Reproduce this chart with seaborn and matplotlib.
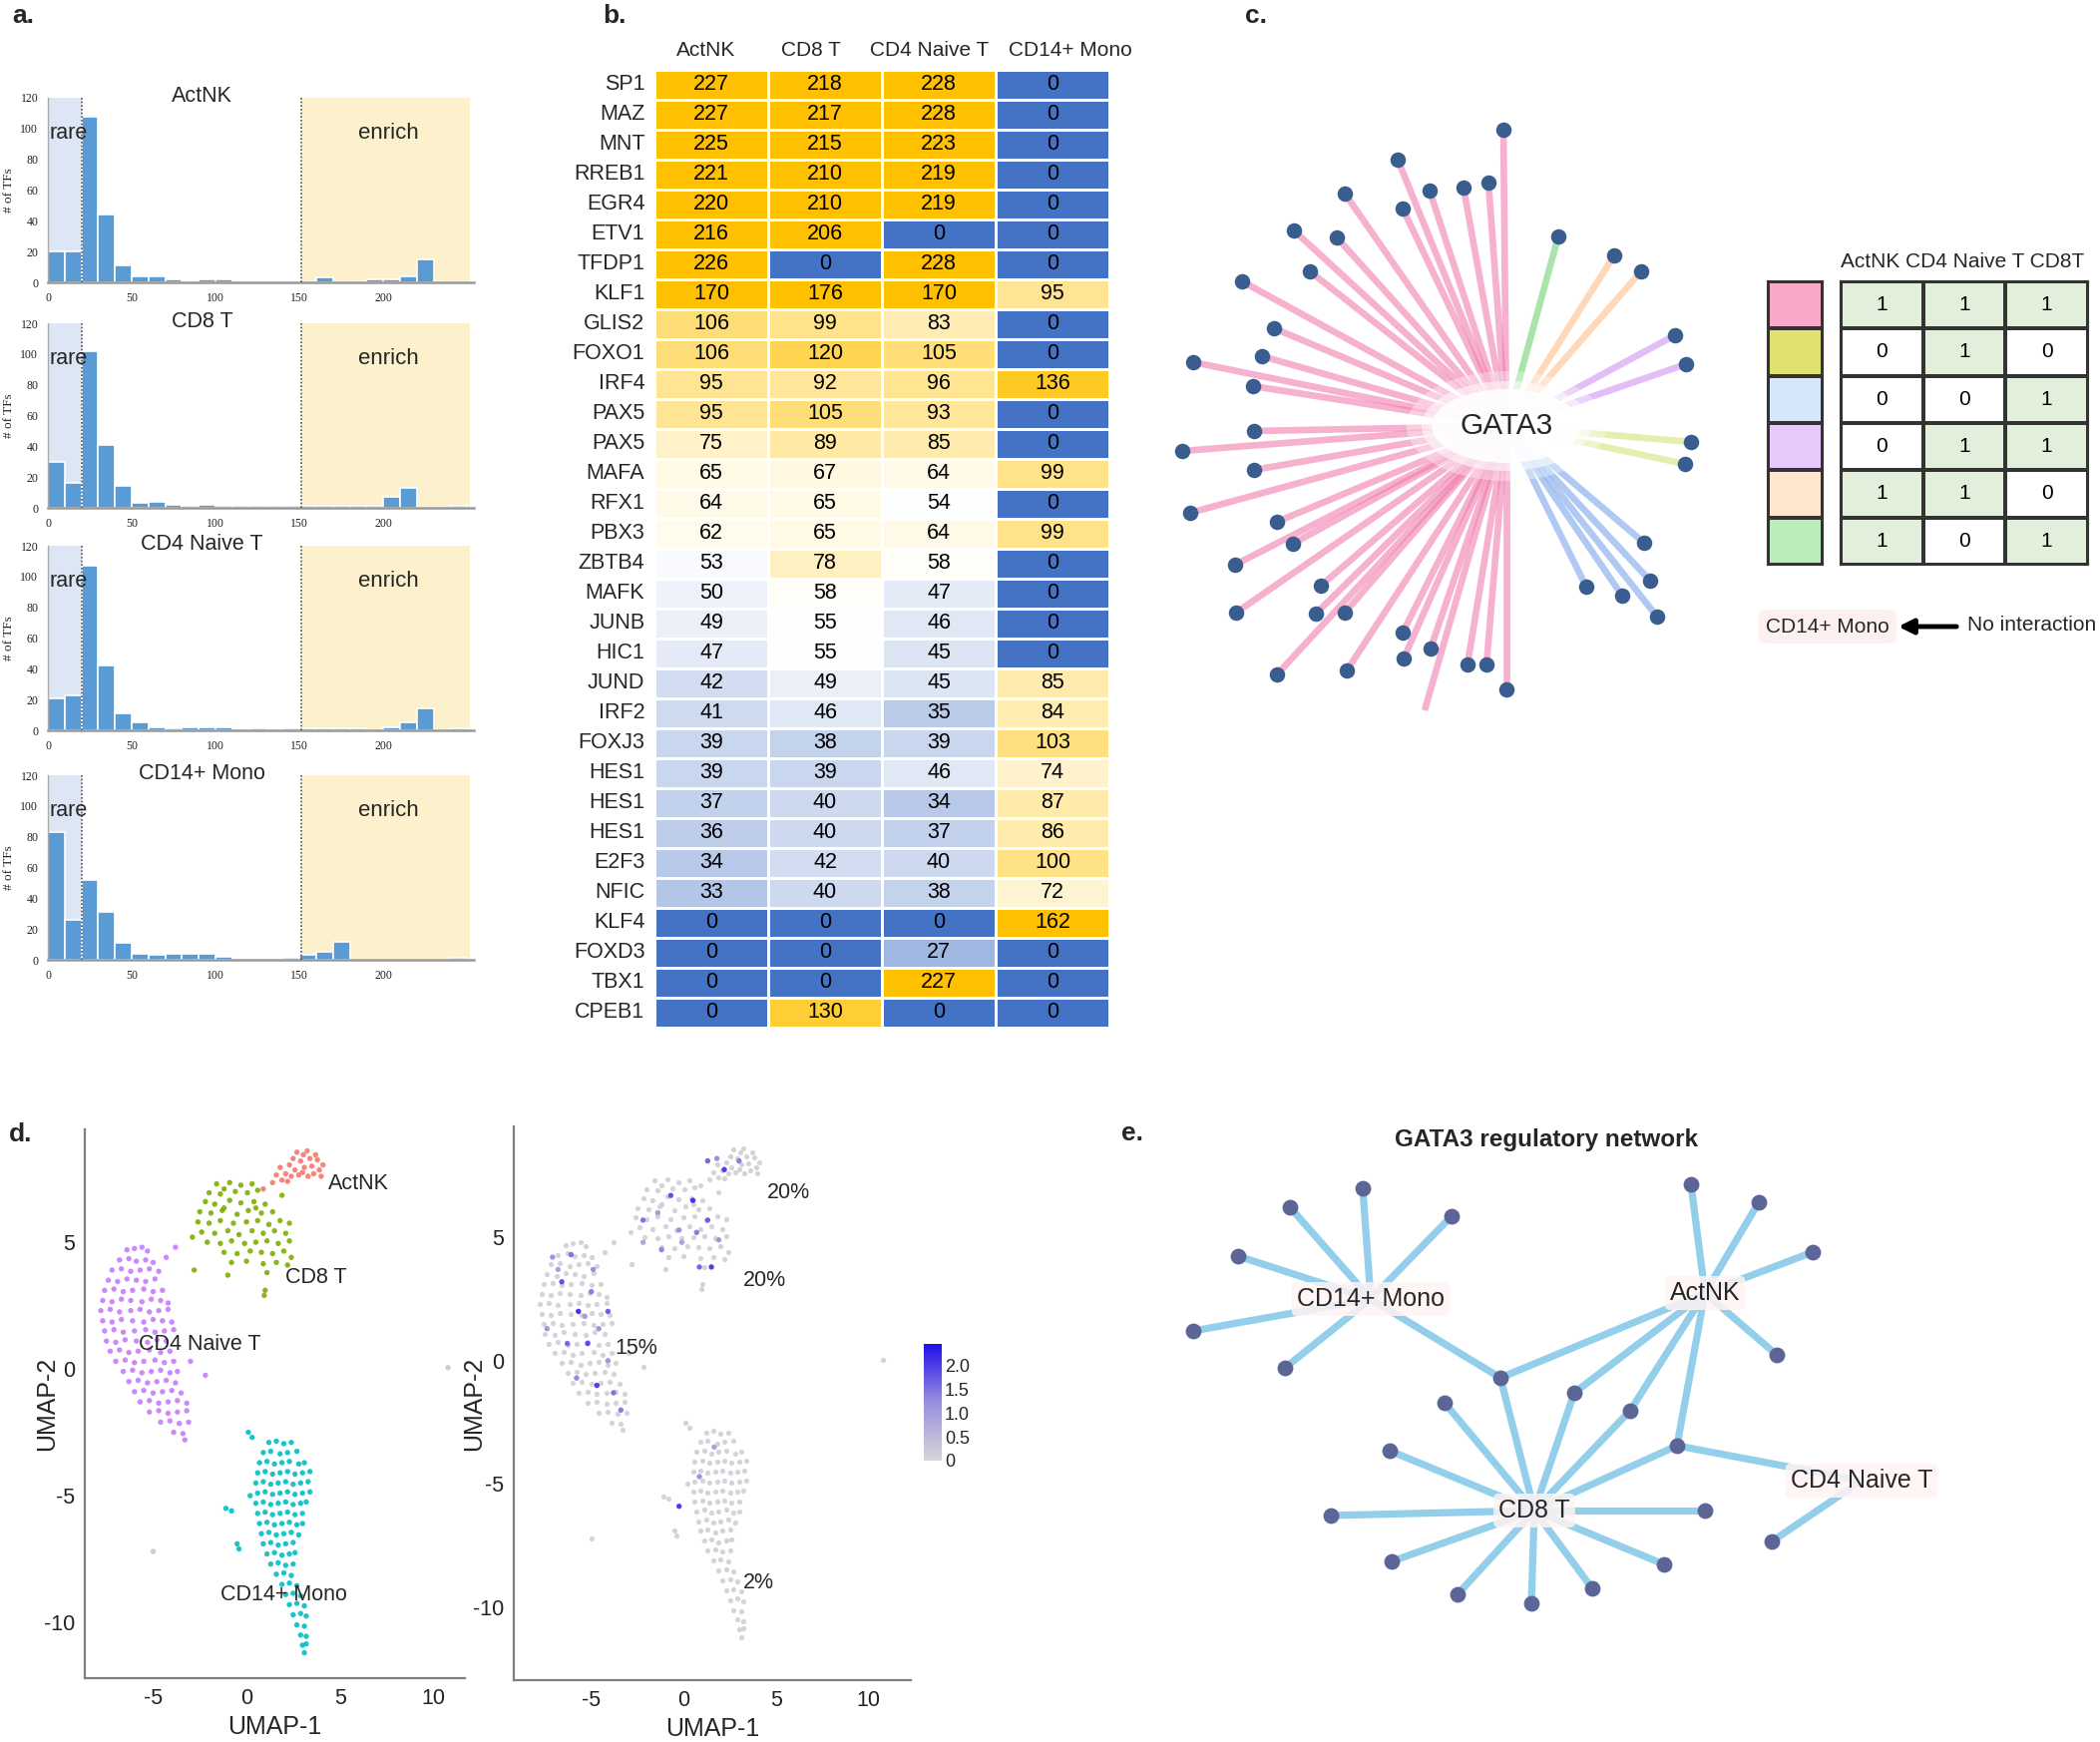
import numpy as np
import pandas as pd
import matplotlib
matplotlib.use("Agg")
import matplotlib.pyplot as plt
import seaborn as sns
from matplotlib.colors import LinearSegmentedColormap, ListedColormap, Normalize
from matplotlib.cm import ScalarMappable
from matplotlib.patches import Ellipse

sns.set_theme(style="white")
plt.rcParams["font.family"] = ["Liberation Sans", "DejaVu Sans"]
plt.rcParams["axes.unicode_minus"] = False
SERIF = ["Liberation Serif", "DejaVu Serif"]

# ---------------- panel a data ----------------
hist_titles = ["ActNK", "CD8 T", "CD4 Naive T", "CD14+ Mono"]
bin_edges = [0, 10, 20, 30, 40, 50, 60, 70, 80, 90, 100, 110, 120, 130, 140, 150,
             160, 170, 180, 190, 200, 210, 220, 230, 240, 250]
counts_actnk = [20, 20, 108, 44, 11, 4, 4, 2, 0, 2, 2, 0, 0, 0, 0, 0, 3, 0, 0, 2, 2, 4, 15, 0, 0]
counts_cd8 = [30, 16, 102, 41, 14, 3, 4, 2, 1, 2, 1, 1, 1, 1, 1, 1, 1, 1, 1, 1, 7, 13, 0, 0, 1]
counts_cd4 = [21, 23, 107, 42, 11, 5, 2, 1, 2, 2, 2, 0, 1, 0, 1, 1, 1, 1, 1, 0, 2, 5, 14, 0, 1]
counts_mono = [83, 26, 52, 31, 11, 4, 3, 4, 4, 4, 2, 0, 0, 0, 1, 3, 5, 12, 0, 0, 0, 0, 0, 0, 1]
rare_cut = 20
enrich_cut = 151

# ---------------- panel b data ----------------
tf_names = ["SP1", "MAZ", "MNT", "RREB1", "EGR4", "ETV1", "TFDP1", "KLF1", "GLIS2", "FOXO1",
            "IRF4", "PAX5", "PAX5", "MAFA", "RFX1", "PBX3", "ZBTB4", "MAFK", "JUNB", "HIC1",
            "JUND", "IRF2", "FOXJ3", "HES1", "HES1", "HES1", "E2F3", "NFIC", "KLF4", "FOXD3",
            "TBX1", "CPEB1"]
cell_cols = ["ActNK", "CD8 T", "CD4 Naive T", "CD14+ Mono"]
vals_actnk = [227, 227, 225, 221, 220, 216, 226, 170, 106, 106, 95, 95, 75, 65, 64, 62, 53, 50,
              49, 47, 42, 41, 39, 39, 37, 36, 34, 33, 0, 0, 0, 0]
vals_cd8 = [218, 217, 215, 210, 210, 206, 0, 176, 99, 120, 92, 105, 89, 67, 65, 65, 78, 58,
            55, 55, 49, 46, 38, 39, 40, 40, 42, 40, 0, 0, 0, 130]
vals_cd4 = [228, 228, 223, 219, 219, 0, 228, 170, 83, 105, 96, 93, 85, 64, 54, 64, 58, 47,
            46, 45, 45, 35, 39, 46, 34, 37, 40, 38, 0, 27, 227, 0]
vals_mono = [0, 0, 0, 0, 0, 0, 0, 95, 0, 0, 136, 0, 0, 99, 0, 99, 0, 0, 0, 0, 85, 84, 103,
             74, 87, 86, 100, 72, 162, 0, 0, 0]

# ---------------- panel c data (leaf offsets from GATA3, px, y down) ----------------
pink_dx = [-3, -109, -162, -77, -43, -18, -104, -213, -170, -197, -265, -233, -245, -314, -254,
           -253, -325, -253, -317, -230, -214, -272, -186, -271, -191, -162, -104, -76, -103,
           -39, -20, -230, -160, 0]
pink_dy = [-297, -267, -233, -236, -239, -244, -218, -196, -189, -155, -145, -98, -70, -64, -40,
           5, 25, 44, 87, 96, 118, 139, 160, 187, 188, 187, 207, 223, 233, 239, 239, 249, 245, 264]
cut_dx, cut_dy = [-82], [285]
green_dx, green_dy = [52], [-190]
peach_dx, peach_dy = [108, 135], [-171, -155]
purple_dx, purple_dy = [169, 180], [-91, -62]
yellow_dx, yellow_dy = [185, 179], [16, 38]
blue_dx, blue_dy = [138, 144, 80, 116, 151], [117, 155, 161, 170, 191]
legend_header = "ActNK CD4 Naive T CD8T"
interaction = [[1, 1, 1], [0, 1, 0], [0, 0, 1], [0, 1, 1], [1, 1, 0], [1, 0, 1]]

# ---------------- panel d data ----------------
actnk_pts = [(1.4, 7.35), (1.6, 7.65), (1.9, 7.45), (1.8, 7.95), (2.1, 7.7), (2.3, 8.05), (2.5, 8.3),
             (2.7, 8.55), (2.9, 8.2), (3.05, 8.45), (3.25, 8.6), (3.1, 7.95), (3.4, 8.3), (3.5, 8.0),
             (3.6, 7.7), (3.8, 8.25), (3.9, 7.85), (4.1, 8.05), (2.6, 7.85), (3.3, 7.6), (2.2, 7.4),
             (3.7, 8.45), (4.0, 7.6), (2.8, 7.65), (0.9, 7.1), (2.4, 7.6), (3.0, 7.75)]
cd8_pts = [(-1.6, 7.3), (-0.9, 7.35), (-0.3, 7.25), (0.3, 7.3), (-1.2, 7.1),
           (-2.0, 6.95), (-1.4, 6.9), (-0.6, 7.0), (0.05, 6.95), (0.6, 7.05), (1.9, 6.85),
           (-2.2, 6.6), (-1.7, 6.5), (-0.9, 6.65), (-0.3, 6.55), (0.4, 6.6), (1.0, 6.5), (-1.2, 6.35),
           (-2.5, 6.2), (-1.9, 6.15), (-1.3, 6.25), (-0.5, 6.1), (0.1, 6.25), (0.8, 6.15), (1.4, 6.2), (0.5, 6.35),
           (-2.6, 5.8), (-2.0, 5.75), (-1.4, 5.85), (-0.7, 5.75), (0.0, 5.8), (0.6, 5.85), (1.2, 5.7), (1.8, 5.85), (2.3, 5.75),
           (-2.4, 5.4), (-1.7, 5.35), (-1.0, 5.45), (-0.4, 5.3), (0.3, 5.45), (0.9, 5.35), (1.5, 5.45), (2.1, 5.35),
           (-2.1, 5.0), (-1.4, 4.95), (-0.8, 5.05), (-0.1, 4.95), (0.5, 5.0), (1.1, 5.05), (1.7, 4.95), (2.3, 5.05),
           (-1.2, 4.6), (-0.5, 4.55), (0.2, 4.65), (0.8, 4.6), (1.4, 4.55), (2.0, 4.65), (2.4, 4.4),
           (-0.8, 4.2), (0.0, 4.25), (0.9, 4.15), (1.6, 4.2), (2.2, 4.1),
           (1.1, 3.8), (0.95, 2.9), (-1.0, 3.7), (-2.8, 3.9), (-2.9, 5.2), (1.0, 3.1)]
cd4_pts = [(-6.4, 4.7), (-6.0, 4.75), (-5.6, 4.8), (-5.3, 4.65), (-3.8, 4.8), (-4.3, 4.4),
           (-6.8, 4.3), (-6.3, 4.35), (-5.9, 4.25), (-5.4, 4.3), (-5.0, 4.2),
           (-7.2, 3.9), (-6.7, 3.95), (-6.2, 3.85), (-5.7, 3.9), (-5.2, 3.95), (-4.7, 3.85),
           (-7.4, 3.5), (-6.9, 3.45), (-6.4, 3.55), (-5.9, 3.5), (-5.4, 3.45), (-4.9, 3.55),
           (-7.6, 3.1), (-7.1, 3.15), (-6.6, 3.05), (-6.1, 3.1), (-5.5, 3.15), (-5.0, 3.05), (-4.5, 3.1),
           (-7.7, 2.7), (-7.2, 2.65), (-6.7, 2.75), (-6.2, 2.7), (-5.6, 2.65), (-5.1, 2.75), (-4.6, 2.7), (-4.2, 2.6),
           (-7.8, 2.3), (-7.3, 2.35), (-6.8, 2.25), (-6.2, 2.3), (-5.7, 2.35), (-5.2, 2.25), (-4.7, 2.3), (-4.2, 2.35),
           (-7.7, 1.9), (-7.2, 1.85), (-6.7, 1.95), (-6.1, 1.9), (-5.5, 1.85), (-5.0, 1.95), (-4.5, 1.9), (-4.0, 1.85),
           (-7.6, 1.5), (-7.1, 1.55), (-6.6, 1.45), (-6.0, 1.5), (-5.4, 1.55), (-4.9, 1.45), (-4.4, 1.5), (-3.9, 1.55),
           (-7.5, 1.1), (-7.0, 1.05), (-6.5, 1.15), (-5.9, 1.1), (-5.3, 1.05), (-4.8, 1.15), (-4.3, 1.1),
           (-7.3, 0.7), (-6.8, 0.75), (-6.3, 0.65), (-5.8, 0.7), (-5.2, 0.75), (-4.6, 0.65), (-4.1, 0.7),
           (-7.0, 0.3), (-6.5, 0.35), (-6.0, 0.25), (-5.5, 0.3), (-4.9, 0.35), (-4.4, 0.25), (-3.9, 0.3),
           (-6.6, -0.1), (-6.1, -0.05), (-5.6, -0.15), (-5.1, -0.1), (-4.6, -0.05), (-4.1, -0.15), (-3.7, -0.1),
           (-6.3, -0.5), (-5.8, -0.45), (-5.3, -0.55), (-4.8, -0.5), (-4.3, -0.45), (-3.8, -0.55),
           (-6.0, -0.9), (-5.5, -0.85), (-5.0, -0.95), (-4.5, -0.9), (-4.0, -0.85), (-3.5, -0.95),
           (-5.7, -1.3), (-5.2, -1.25), (-4.7, -1.35), (-4.2, -1.3), (-3.7, -1.25), (-3.2, -1.35),
           (-5.2, -1.7), (-4.7, -1.65), (-4.2, -1.75), (-3.7, -1.7), (-3.2, -1.65),
           (-4.6, -2.1), (-4.1, -2.05), (-3.6, -2.15), (-3.1, -2.1),
           (-3.9, -2.5), (-3.4, -2.55), (-3.3, -2.8), (-2.2, -0.25), (-3.0, 0.3)]
mono_pts = [(1.2, -2.9), (1.6, -2.85), (2.0, -2.95), (2.4, -2.9),
            (0.9, -3.3), (1.3, -3.25), (1.8, -3.35), (2.2, -3.3), (2.7, -3.25),
            (0.7, -3.7), (1.1, -3.65), (1.5, -3.75), (1.9, -3.7), (2.3, -3.65), (2.8, -3.75), (3.1, -3.7),
            (0.6, -4.1), (1.0, -4.05), (1.4, -4.15), (1.8, -4.1), (2.2, -4.05), (2.6, -4.15), (3.0, -4.1), (3.4, -4.05),
            (0.5, -4.5), (0.9, -4.45), (1.3, -4.55), (1.7, -4.5), (2.1, -4.45), (2.5, -4.55), (2.9, -4.5), (3.3, -4.45),
            (0.6, -4.9), (1.0, -4.85), (1.4, -4.95), (1.8, -4.9), (2.2, -4.85), (2.6, -4.95), (3.0, -4.9), (3.4, -4.85),
            (0.5, -5.3), (0.9, -5.25), (1.3, -5.35), (1.7, -5.3), (2.1, -5.25), (2.5, -5.35), (2.9, -5.3), (3.2, -5.25),
            (0.6, -5.7), (1.0, -5.65), (1.4, -5.75), (1.8, -5.7), (2.2, -5.65), (2.6, -5.75), (3.0, -5.7),
            (0.7, -6.1), (1.1, -6.05), (1.5, -6.15), (1.9, -6.1), (2.3, -6.05), (2.7, -6.15), (3.0, -6.1),
            (0.8, -6.5), (1.2, -6.45), (1.6, -6.55), (2.0, -6.5), (2.4, -6.45), (2.8, -6.55),
            (0.9, -6.9), (1.3, -6.85), (1.7, -6.95), (2.1, -6.9), (2.5, -6.85),
            (1.1, -7.3), (1.5, -7.25), (1.9, -7.35), (2.3, -7.3), (2.6, -7.25),
            (1.3, -7.7), (1.7, -7.65), (2.1, -7.75), (2.5, -7.7),
            (1.6, -8.1), (2.0, -8.05), (2.4, -8.15), (1.9, -8.5), (2.3, -8.45), (2.7, -8.55),
            (2.1, -8.9), (2.5, -8.85), (2.9, -8.95), (2.3, -9.3), (2.7, -9.25), (3.1, -9.35),
            (2.5, -9.7), (2.9, -9.65), (3.2, -9.75), (2.7, -10.1), (3.1, -10.15),
            (2.9, -10.5), (3.2, -10.55), (3.0, -10.9), (3.2, -10.85), (3.1, -11.2),
            (0.1, -2.5), (0.3, -2.7), (-1.1, -5.5), (-0.8, -5.6), (-0.5, -6.9), (-0.4, -7.1), (0.2, -5.0)]
other_pts = [(-5.0, -7.2), (10.8, 0.05)]
expr_pts = [(1.3, 8.1, 1.6), (1.8, 8.2, 1.2), (2.2, 7.75, 2.0), (3.0, 8.1, 1.4),
            (-2.2, 5.7, 1.5), (-1.4, 6.0, 1.0), (-0.7, 6.7, 1.8), (-0.25, 5.3, 1.2), (0.5, 6.5, 2.1),
            (0.7, 5.2, 1.4), (-0.1, 4.8, 0.9), (1.3, 5.7, 1.7), (1.5, 3.8, 2.0), (1.9, 4.9, 1.1),
            (-1.2, 4.5, 1.3), (-2.2, 4.8, 0.8), (0.85, 3.8, 1.6),
            (-7.1, 4.2, 1.2), (-6.6, 3.2, 1.8), (-5.7, 2.0, 2.1), (-5.35, 1.8, 1.0), (-5.0, 2.8, 1.4),
            (-7.4, 1.3, 1.1), (-6.3, 0.7, 1.6), (-5.2, 0.7, 1.9), (-4.6, 1.3, 1.2), (-4.1, 2.0, 1.7),
            (-5.8, -0.7, 1.3), (-4.7, -1.0, 2.0), (-3.8, -1.3, 1.5), (-4.1, 0.0, 1.1), (-3.4, -2.0, 1.4),
            (-6.8, 3.7, 0.9), (-6.1, 4.3, 1.5), (-4.9, 3.7, 1.2),
            (-0.25, -5.9, 2.0), (0.85, -4.7, 1.2), (1.65, -3.5, 0.9)]
cluster_labels = [("ActNK", 4.4, 7.3), ("CD8 T", 2.1, 3.6), ("CD4 Naive T", -5.8, 0.95), ("CD14+ Mono", -1.4, -8.9)]
pct_labels = [("20%", 4.5, 6.8), ("20%", 3.2, 3.25), ("15%", -3.75, 0.5), ("2%", 3.2, -9.0)]
cbar_ticks = [0, 0.5, 1.0, 1.5, 2.0]
cbar_ticklabels = ["0", "0.5", "1.0", "1.5", "2.0"]

# ---------------- panel e data ----------------
hub_names = ["CD14+ Mono", "ActNK", "CD8 T", "CD4 Naive T"]
hub_x = [1374, 1709, 1538, 1866]
hub_y = [1302, 1296, 1514, 1484]
tfnode_x = [1366, 1293, 1455, 1241, 1196, 1288, 1504, 1695, 1763, 1817, 1781, 1578, 1634, 1681,
            1448, 1393, 1334, 1709, 1395, 1461, 1535, 1596, 1668, 1776]
tfnode_y = [1191, 1210, 1219, 1259, 1334, 1371, 1381, 1187, 1205, 1255, 1358, 1396, 1414, 1449,
            1406, 1454, 1519, 1514, 1565, 1598, 1607, 1592, 1568, 1545]
tfnode_links = [[0], [0], [0], [0], [0], [0], [0, 1, 2], [1], [1], [1], [1], [1, 2], [1, 2], [1, 2, 3],
                [2], [2], [2], [2], [2], [2], [2], [2], [2], [3]]

# ======================================================================
W, H = 2105, 1746
fig = plt.figure(figsize=(W / 100, H / 100), dpi=100)


def px_ax(x0, y0, x1, y1):
    return fig.add_axes([x0 / W, 1 - y1 / H, (x1 - x0) / W, (y1 - y0) / H])


def ftext(x, y, s, **kw):
    return fig.text(x / W, 1 - y / H, s, **kw)


# ---------------- panel a ----------------
hist_counts = [counts_actnk, counts_cd8, counts_cd4, counts_mono]
hist_boxes = [(48, 98, 475, 283), (48, 324, 475, 509), (48, 547, 475, 732), (48, 777, 475, 962)]
centers = [(a + b) / 2 for a, b in zip(bin_edges[:-1], bin_edges[1:])]
for title, counts, box in zip(hist_titles, hist_counts, hist_boxes):
    ax = px_ax(*box)
    ax.axvspan(0, rare_cut, color="#DCE6F4", zorder=0, lw=0)
    ax.axvspan(enrich_cut, 251.5, color="#FDF0CD", zorder=0, lw=0)
    sns.histplot(x=centers, weights=counts, bins=bin_edges, color="#5B9BD5", alpha=1,
                 edgecolor="white", linewidth=1.2, ax=ax)
    for xc in (rare_cut, enrich_cut):
        ax.axvline(xc, color="#555555", ls=(0, (1, 1.2)), lw=1.2, zorder=3)
    ax.set_xlim(0, 254)
    ax.set_ylim(0, 120)
    ax.set_xticks([0, 50, 100, 150, 200])
    ax.set_yticks([0, 20, 40, 60, 80, 100, 120])
    ax.tick_params(length=0, labelsize=8.5, pad=7, colors="#222222")
    for lbl in ax.get_xticklabels() + ax.get_yticklabels():
        lbl.set_fontfamily(SERIF)
    ax.set_xlabel("")
    ax.set_ylabel("# of TFs", fontsize=9.5, fontfamily=SERIF, labelpad=4)
    for s in ("top", "right"):
        ax.spines[s].set_visible(False)
    ax.spines["left"].set_color("#AAAAAA")
    ax.spines["left"].set_linewidth(1)
    ax.spines["bottom"].set_color("#999999")
    ax.spines["bottom"].set_linewidth(1.8)
    ax.text(92, 121, title, ha="center", va="center", fontsize=15.5, zorder=6)
    ax.text(1, 97, "rare", ha="left", va="center", fontsize=15.5, zorder=6)
    ax.text(203, 97, "enrich", ha="center", va="center", fontsize=16, zorder=6)

# ---------------- panel b ----------------
hm_df = pd.DataFrame({"ActNK": vals_actnk, "CD8 T": vals_cd8, "CD4 Naive T": vals_cd4,
                      "CD14+ Mono": vals_mono})
axb = px_ax(656, 70, 1112, 1030)
cmap_b = LinearSegmentedColormap.from_list(
    "b", [(0, "#4472C4"), (55 / 150, "#FFFFFF"), (1, "#FFC000")])
sns.heatmap(hm_df, cmap=cmap_b, vmin=0, vmax=150, annot=True, fmt="d",
            annot_kws={"fontsize": 15.5, "color": "black"}, linewidths=2, linecolor="white",
            cbar=False, ax=axb, xticklabels=False, yticklabels=tf_names)
axb.set_yticklabels(tf_names, rotation=0, fontsize=15.5)
axb.tick_params(axis="y", length=0, pad=7)
axb.set_xlabel("")
axb.set_ylabel("")
for name, cx in zip(cell_cols, [708, 813, 932, 1073]):
    ftext(cx, 51, name, ha="center", va="center", fontsize=15)

# ---------------- panel c ----------------
axc = px_ax(1160, 100, 1720, 740)
star_groups = [
    (pink_dx + cut_dx, pink_dy + cut_dy, "#F07DAE", 0.6),
    (green_dx, green_dy, "#8EDC8E", 0.75),
    (peach_dx, peach_dy, "#FFC89C", 0.7),
    (purple_dx, purple_dy, "#D7A8F5", 0.75),
    (yellow_dx, yellow_dy, "#DDE88A", 0.7),
    (blue_dx, blue_dy, "#94B8EE", 0.75),
]
for dxs, dys, col, al in star_groups:
    for dx, dy in zip(dxs, dys):
        axc.plot([0, dx], [0, dy], color=col, lw=4.8, alpha=al, solid_capstyle="butt", zorder=1)
node_dx = pink_dx + green_dx + peach_dx + purple_dx + yellow_dx + blue_dx
node_dy = pink_dy + green_dy + peach_dy + purple_dy + yellow_dy + blue_dy
sns.scatterplot(x=node_dx, y=node_dy, color="#3A5D8F", s=125, linewidth=0, ax=axc, zorder=3)
for w, h, a in ((200, 110, 0.35), (170, 90, 0.55), (150, 74, 0.9)):
    axc.add_patch(Ellipse((0, 0), w, h, fc="white", ec="none", alpha=a, zorder=4))
axc.text(0, 0, "GATA3", ha="center", va="center", fontsize=21.5, zorder=5)
axc.set_xlim(-350, 210)
axc.set_ylim(313, -327)
axc.axis("off")

legend_colors = ["#F9A8C9", "#E0E06E", "#D6E6FB", "#E6C8FA", "#FFE6CC", "#B9EEB9"]
axs = px_ax(1772, 282, 1827, 566)
sns.heatmap(np.array([[0], [1], [2], [3], [4], [5]]), cmap=ListedColormap(legend_colors),
            vmin=-0.5, vmax=5.5, cbar=False, linewidths=1.5, linecolor="#333333",
            xticklabels=False, yticklabels=False, ax=axs)
axt = px_ax(1845, 282, 2093, 566)
sns.heatmap(np.array(interaction), cmap=ListedColormap(["#FFFFFF", "#E2EFDA"]), vmin=0, vmax=1,
            annot=True, fmt="d", annot_kws={"fontsize": 15, "color": "black"},
            cbar=False, linewidths=1.5, linecolor="#333333",
            xticklabels=False, yticklabels=False, ax=axt)
for a in (axs, axt):
    for sp in a.spines.values():
        sp.set_visible(True)
        sp.set_color("#333333")
        sp.set_linewidth(1.5)
ftext(1845, 262, legend_header, ha="left", va="center", fontsize=15)
ftext(1770, 628, "CD14+ Mono", ha="left", va="center", fontsize=15,
      bbox=dict(boxstyle="round,pad=0.35", fc="#FDF0F0", ec="none"))
ftext(1972, 627, "No interaction", ha="left", va="center", fontsize=15)

# ---------------- panel d ----------------
rows = []
for name, pts in (("ActNK", actnk_pts), ("CD8 T", cd8_pts), ("CD4 Naive T", cd4_pts),
                  ("CD14+ Mono", mono_pts), ("other", other_pts)):
    for x, y in pts:
        rows.append({"UMAP_1": x, "UMAP_2": y, "cluster": name})
umap_df = pd.DataFrame(rows)
expr_df = pd.DataFrame(expr_pts, columns=["UMAP_1", "UMAP_2", "expr"])
cluster_palette = {"ActNK": "#F8766D", "CD8 T": "#7CAE00", "CD4 Naive T": "#C77CFF",
                   "CD14+ Mono": "#00BFC4", "other": "#C8C8C8"}
cmap_expr = LinearSegmentedColormap.from_list("expr", ["#D6D6D6", "#9A90E0", "#2010E8"])


def style_umap(ax, xlim, ylim):
    ax.set_xlim(*xlim)
    ax.set_ylim(*ylim)
    ax.set_xticks([-5, 0, 5, 10])
    ax.set_yticks([-10, -5, 0, 5])
    for s in ("top", "right"):
        ax.spines[s].set_visible(False)
    for s in ("left", "bottom"):
        ax.spines[s].set_color("#7F7F7F")
        ax.spines[s].set_linewidth(1.6)
    ax.tick_params(length=3, width=1, labelsize=15.5, pad=4, colors="#222222")
    ax.tick_params(color="#7F7F7F")
    ax.set_xlabel("UMAP-1", fontsize=18)
    ax.set_ylabel("UMAP-2", fontsize=18)


axL = px_ax(85, 1132, 466, 1682)
sns.scatterplot(data=umap_df, x="UMAP_1", y="UMAP_2", hue="cluster", palette=cluster_palette,
                s=15, linewidth=0, alpha=0.9, legend=False, ax=axL)
style_umap(axL, (-8.66, 11.7), (-12.2, 9.45))
axL.yaxis.set_label_coords(-0.068, 0.5)
axL.xaxis.set_label_coords(0.5, -0.068)
for s, x, y in cluster_labels:
    axL.text(x, y, s, ha="left", va="center", fontsize=15.5)

axR = px_ax(515, 1129, 913, 1684)
sns.scatterplot(data=umap_df, x="UMAP_1", y="UMAP_2", color="#CFCFD6", s=14, linewidth=0,
                alpha=0.9, ax=axR)
sns.scatterplot(data=expr_df, x="UMAP_1", y="UMAP_2", hue="expr", palette=cmap_expr,
                hue_norm=(0, 2.46), s=15, linewidth=0, legend=False, ax=axR)
style_umap(axR, (-9.2, 12.3), (-12.95, 9.5))
axR.yaxis.set_label_coords(-0.07, 0.5)
axR.xaxis.set_label_coords(0.5, -0.066)
for s, x, y in pct_labels:
    axR.text(x, y, s, ha="left", va="center", fontsize=15.5)

cax = px_ax(926, 1347, 944, 1464)
cb = fig.colorbar(ScalarMappable(norm=Normalize(0, 2.46), cmap=cmap_expr), cax=cax)
cb.set_ticks(cbar_ticks)
cb.set_ticklabels(cbar_ticklabels)
cb.outline.set_visible(False)
cax.tick_params(length=0, labelsize=13, pad=2)

# ---------------- panel e ----------------
axe = px_ax(1125, 1140, 2105, 1746)
for tx, ty, links in zip(tfnode_x, tfnode_y, tfnode_links):
    for h in links:
        axe.plot([tx, hub_x[h]], [ty, hub_y[h]], color="#93CFEA", lw=5.2,
                 solid_capstyle="round", zorder=1)
sns.scatterplot(x=tfnode_x, y=tfnode_y, color="#5B6596", s=130, linewidth=0, ax=axe, zorder=3)
for name, hx, hy in zip(hub_names, hub_x, hub_y):
    axe.text(hx, hy, name, ha="center", va="center", fontsize=18, zorder=5,
             bbox=dict(boxstyle="round,pad=0.2", fc="#FFF4F4", ec="none", alpha=0.85))
axe.set_xlim(1125, 2105)
axe.set_ylim(1746, 1140)
axe.axis("off")
ftext(1550, 1143, "GATA3 regulatory network", ha="center", va="center", fontsize=17.5,
      fontweight="bold")

# ---------------- panel letters ----------------
for lab, x, y in (("a.", 12, 16), ("b.", 604, 16), ("c.", 1248, 16), ("d.", 9, 1137), ("e.", 1124, 1136)):
    ftext(x, y, lab, ha="left", va="center", fontsize=19, fontweight="bold")

# arrow for "No interaction"
axo = fig.add_axes([0, 0, 1, 1])
axo.set_xlim(0, W)
axo.set_ylim(H, 0)
axo.axis("off")
axo.annotate("", xy=(1900, 628), xytext=(1964, 628),
             arrowprops=dict(arrowstyle="-|>", color="black", lw=3.5, mutation_scale=22))

fig.savefig("out.png", dpi=100)
